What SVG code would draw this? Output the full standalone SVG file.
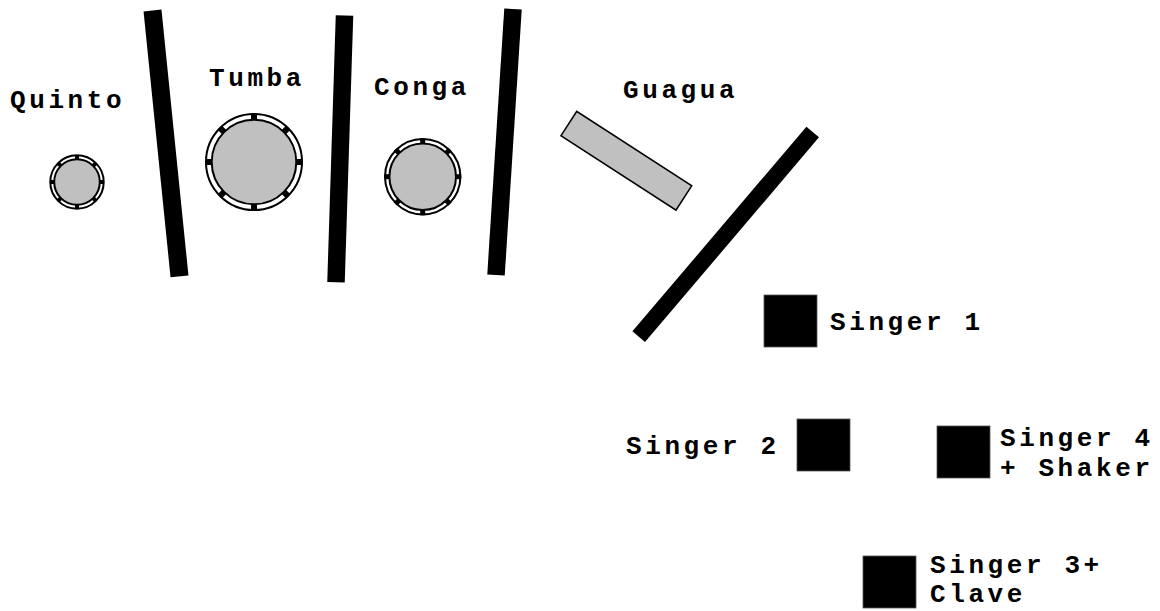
<svg xmlns="http://www.w3.org/2000/svg" width="1160" height="611" viewBox="0 0 1160 611">
<style>
.lbl{font-family:"Liberation Mono","Courier New",monospace;font-weight:bold;font-size:26px;letter-spacing:3.6px;fill:#000}
.rim{fill:#fff;stroke:#000;stroke-width:2}
.head{fill:#c0c0c0;stroke:#000;stroke-width:2}
.lug{fill:#000}
.panel{stroke:#000;stroke-linecap:butt;fill:none}
.singer{fill:#000;stroke:#555;stroke-width:0.8}
</style>
<rect width="1160" height="611" fill="#fff"/>
<g id="panels">
<line class="panel" x1="152.5" y1="10.5" x2="179.5" y2="276.3" stroke-width="18"/>
<line class="panel" x1="344.5" y1="15.5" x2="336" y2="282.3" stroke-width="17.5"/>
<line class="panel" x1="513" y1="9" x2="496" y2="275" stroke-width="17.5"/>
<line class="panel" x1="812.7" y1="132" x2="638.7" y2="336.7" stroke-width="16.5"/>
</g>
<g id="quinto">
<g transform="translate(77,182)">
<circle class="rim" r="26.7"/>
<circle class="head" r="22.8"/>
<rect class="lug" x="-2" y="-27" width="4" height="4"/>
<rect class="lug" x="-2" y="-27" width="4" height="4" transform="rotate(45)"/>
<rect class="lug" x="-2" y="-27" width="4" height="4" transform="rotate(90)"/>
<rect class="lug" x="-2" y="-27" width="4" height="4" transform="rotate(135)"/>
<rect class="lug" x="-2" y="-27" width="4" height="4" transform="rotate(180)"/>
<rect class="lug" x="-2" y="-27" width="4" height="4" transform="rotate(225)"/>
<rect class="lug" x="-2" y="-27" width="4" height="4" transform="rotate(270)"/>
<rect class="lug" x="-2" y="-27" width="4" height="4" transform="rotate(315)"/>
</g>
<text class="lbl" x="10" y="108">Quinto</text>
</g>
<g id="tumba">
<g transform="translate(254,162)">
<circle class="rim" r="48"/>
<circle class="head" r="42.3"/>
<rect class="lug" x="-3" y="-48.5" width="6" height="6"/>
<rect class="lug" x="-3" y="-48.5" width="6" height="6" transform="rotate(45)"/>
<rect class="lug" x="-3" y="-48.5" width="6" height="6" transform="rotate(90)"/>
<rect class="lug" x="-3" y="-48.5" width="6" height="6" transform="rotate(135)"/>
<rect class="lug" x="-3" y="-48.5" width="6" height="6" transform="rotate(180)"/>
<rect class="lug" x="-3" y="-48.5" width="6" height="6" transform="rotate(225)"/>
<rect class="lug" x="-3" y="-48.5" width="6" height="6" transform="rotate(270)"/>
<rect class="lug" x="-3" y="-48.5" width="6" height="6" transform="rotate(315)"/>
</g>
<text class="lbl" x="209" y="86">Tumba</text>
</g>
<g id="conga">
<g transform="translate(422.7,176.7)">
<circle class="rim" r="37.7"/>
<circle class="head" r="33.3"/>
<rect class="lug" x="-2.5" y="-38.5" width="5" height="5"/>
<rect class="lug" x="-2.5" y="-38.5" width="5" height="5" transform="rotate(45)"/>
<rect class="lug" x="-2.5" y="-38.5" width="5" height="5" transform="rotate(90)"/>
<rect class="lug" x="-2.5" y="-38.5" width="5" height="5" transform="rotate(135)"/>
<rect class="lug" x="-2.5" y="-38.5" width="5" height="5" transform="rotate(180)"/>
<rect class="lug" x="-2.5" y="-38.5" width="5" height="5" transform="rotate(225)"/>
<rect class="lug" x="-2.5" y="-38.5" width="5" height="5" transform="rotate(270)"/>
<rect class="lug" x="-2.5" y="-38.5" width="5" height="5" transform="rotate(315)"/>
</g>
<text class="lbl" x="374" y="95">Conga</text>
</g>
<g id="guagua">
<rect x="-68.5" y="-14.5" width="137" height="29" fill="#c0c0c0" stroke="#000" stroke-width="1.5" transform="translate(626.35,160.75) rotate(32.9)"/>
<text class="lbl" x="623" y="98">Guagua</text>
</g>
<g id="singer1">
<rect class="singer" x="764" y="295" width="53" height="52"/>
<text class="lbl" x="830" y="330">Singer 1</text>
</g>
<g id="singer2">
<rect class="singer" x="797" y="419" width="53" height="52"/>
<text class="lbl" x="626" y="454">Singer 2</text>
</g>
<g id="singer4">
<rect class="singer" x="937" y="426" width="53" height="52"/>
<text class="lbl" x="1000" y="446">Singer 4</text>
<text class="lbl" x="1000" y="475.5">+ Shaker</text>
</g>
<g id="singer3">
<rect class="singer" x="863" y="556" width="53" height="52"/>
<text class="lbl" x="930" y="572.5">Singer 3+</text>
<text class="lbl" x="930" y="602">Clave</text>
</g>
</svg>
